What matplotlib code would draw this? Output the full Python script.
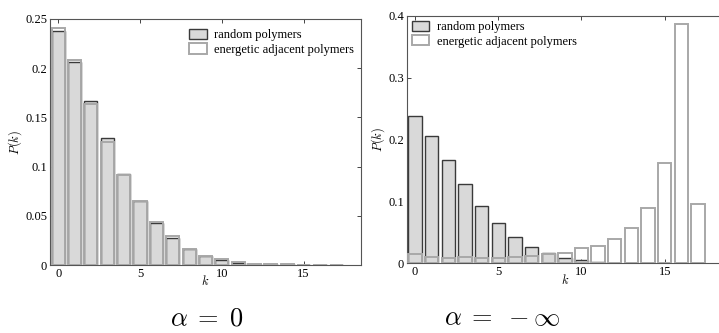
import matplotlib
matplotlib.use('Agg')
import matplotlib.pyplot as plt
import numpy as np

plt.rcParams['font.family'] = 'Liberation Serif'
plt.rcParams['mathtext.fontset'] = 'cm'

# data
k = list(range(18))
random_poly = [0.238, 0.206, 0.167, 0.129, 0.093, 0.065, 0.043, 0.027, 0.016,
               0.009, 0.005, 0.0025, 0.0012, 0.001, 0.0007, 0.0003, 0.0002, 0.0001]
energetic_a0 = [0.241, 0.208, 0.164, 0.125, 0.091, 0.065, 0.044, 0.030, 0.016,
                0.009, 0.0065, 0.0035, 0.0015, 0.0012, 0.0008, 0.0003, 0.0002, 0.0001]
energetic_ainf = [0.015, 0.010, 0.008, 0.0097, 0.0086, 0.0086, 0.011, 0.012, 0.0145,
                  0.016, 0.025, 0.0285, 0.039, 0.0576, 0.090, 0.1626, 0.386, 0.0958]

left_yticks = [0, 0.05, 0.1, 0.15, 0.2, 0.25]
left_ylabels = ['0', '0.05', '0.1', '0.15', '0.2', '0.25']
right_yticks = [0, 0.1, 0.2, 0.3, 0.4]
right_ylabels = ['0', '0.1', '0.2', '0.3', '0.4']

fig = plt.figure(figsize=(7.19, 3.33), dpi=100)
ax1 = fig.add_axes([0.0695, 0.204, 0.4325, 0.739])
ax2 = fig.add_axes([0.5656, 0.209, 0.44, 0.744])

def draw(ax, energetic, ylim, yticks, ylabels, legloc, anchor):
    ax.bar(k, random_poly, width=0.8, color='#d9d9d9', edgecolor='#3a3a3a',
           linewidth=1.0, label='random polymers', zorder=2)
    ax.bar(k, energetic, width=0.8, color='none', edgecolor='#a8a8a8',
           linewidth=1.4, label='energetic adjacent polymers', zorder=3)
    ax.set_xlim(-0.5, 18.5)
    ax.set_ylim(*ylim)
    ax.set_xticks([0, 5, 10, 15])
    ax.set_yticks(yticks)
    ax.set_yticklabels(ylabels)
    ax.tick_params(direction='in', top=True, right=True, length=3, pad=2,
                   labelsize=9, width=0.7, color='#444444')
    for s in ax.spines.values():
        s.set_color('#555555')
        s.set_linewidth(0.8)
    ax.set_xlabel('$k$', fontsize=9, labelpad=-4)
    ax.set_ylabel('$P(k)$', fontsize=9, labelpad=1)
    ax.legend(loc=legloc, bbox_to_anchor=anchor, frameon=False, fontsize=9,
              handlelength=1.4, handleheight=0.9, borderaxespad=0.0,
              labelspacing=0.15, handletextpad=0.6)

draw(ax1, energetic_a0, (0, 0.25), left_yticks, left_ylabels, 'upper right',
     (0.995, 0.98))
draw(ax2, energetic_ainf, (0, 0.4), right_yticks, right_ylabels, 'upper left',
     (0.0, 1.0))

fig.text(207 / 719, 1 - 319 / 333, r'$\alpha\;=\;0$', fontsize=19,
         ha='center', va='center')
fig.text(502 / 719, 1 - 319 / 333, r'$\alpha\;=\;-\infty$', fontsize=19,
         ha='center', va='center')

fig.savefig('out.png', dpi=100)
